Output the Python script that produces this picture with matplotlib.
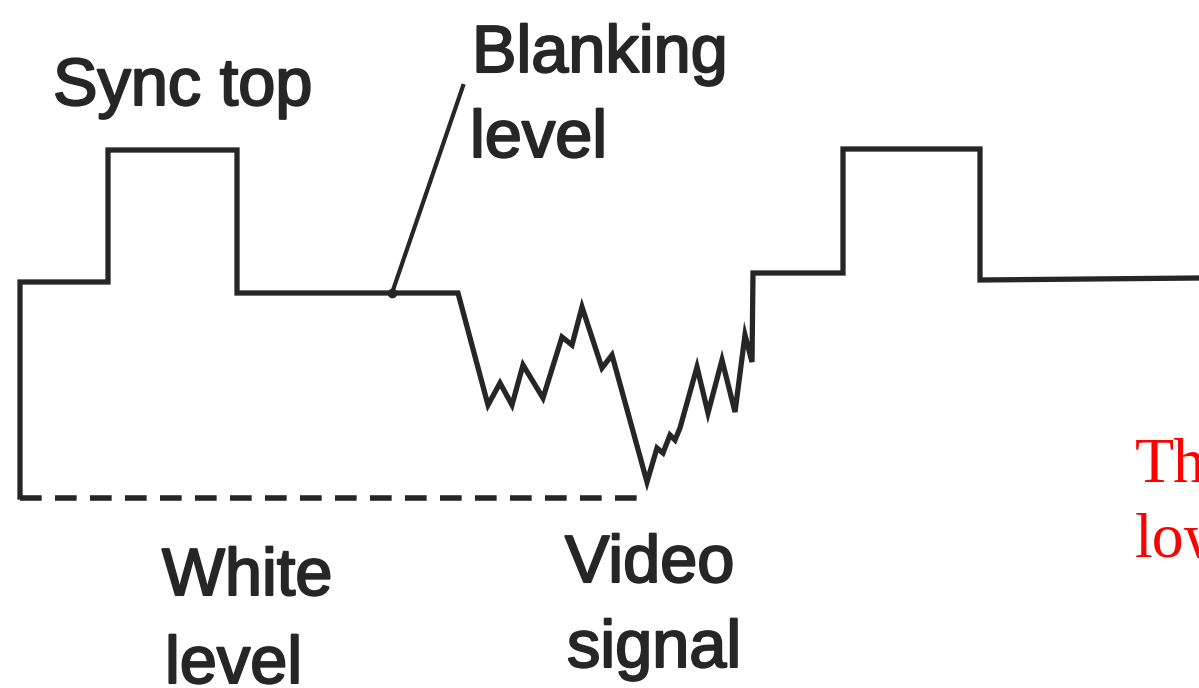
import matplotlib
matplotlib.use("Agg")
import matplotlib.pyplot as plt
import matplotlib.patheffects as pe

# waveform vertices, in image pixels (y grows downwards)
wave_x = [20, 20, 108, 108, 237, 237, 458, 488, 500, 512, 523, 543, 562, 572,
          582, 602, 612, 647, 657, 663, 670, 675, 680, 697, 708, 722, 735, 745,
          752, 753, 843, 843, 980, 980, 1199]
wave_y = [497, 282, 282, 150, 150, 293, 293, 405, 383, 405, 365, 398, 337, 345,
          307, 368, 355, 482, 448, 453, 435, 440, 428, 367, 413, 360, 412, 335,
          362, 273, 273, 149, 149, 280, 278]

# white level (dashed) and blanking pointer
white_x = [20, 642]
white_y = [498, 498]
pointer_x = [392, 463]
pointer_y = [293, 86]

labels = [
    ("Sync top", 53, 105),
    ("Blanking", 472, 72),
    ("level", 470, 157),
    ("White", 162, 595),
    ("level", 165, 683),
    ("Video", 565, 582),
    ("signal", 567, 667),
]
red_lines = [("The", 1135, 482), ("low", 1135, 557)]

ink = "#262626"

fig = plt.figure(figsize=(11.99, 6.88), dpi=100)
ax = fig.add_axes([0, 0, 1, 1])
ax.set_xlim(0, 1199)
ax.set_ylim(688, 0)
ax.axis("off")

ax.plot(wave_x, wave_y, color=ink, lw=3.8, solid_joinstyle="miter")
ax.plot(white_x, white_y, color=ink, lw=4, linestyle=(0, (3.9, 2.4)))
ax.plot(pointer_x, pointer_y, color=ink, lw=3)
ax.plot(pointer_x[0], pointer_y[0], "o", color=ink, ms=6)

for txt, x, y in labels:
    ax.text(x, y, txt, fontsize=48, family="Liberation Sans", color=ink,
            ha="left", va="baseline",
            path_effects=[pe.withStroke(linewidth=1.5, foreground=ink)])

for txt, x, y in red_lines:
    ax.text(x, y, txt, fontsize=46, family="Liberation Serif", color="red",
            ha="left", va="baseline")

fig.savefig("out.png", dpi=100)
